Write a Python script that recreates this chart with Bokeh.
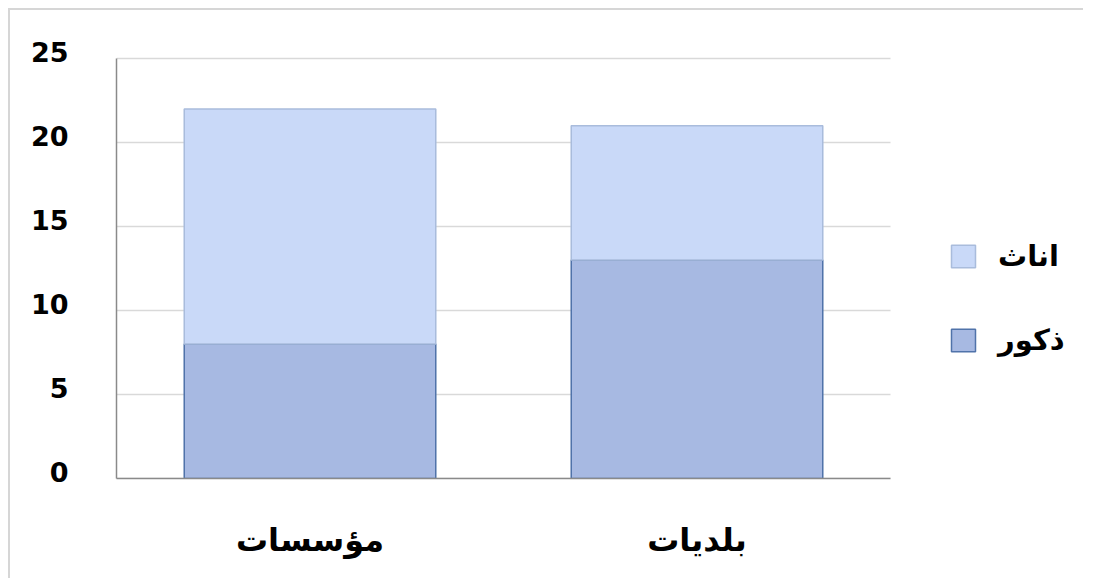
from bokeh.plotting import figure
from bokeh.models import Range1d, Legend, LegendItem, FixedTicker, InlineStyleSheet, LinearAxis
from bokeh.embed import file_html
from bokeh.resources import INLINE

# ---- data ----
categories = ["مؤسسات", "بلديات"]
males = [8, 13]      # ذكور
females = [14, 8]    # اناث
y_ticks = [0, 5, 10, 15, 20, 25]
series_labels = {"males": "ذكور", "females": "اناث"}

# ---- layout constants ----
W, H = 1075, 570
BL = 106
PX_PER_UNIT = 420 / 25            # vertical pixels per value unit
LABEL_LIFT_PX = 7                 # tick labels sit a little above their gridlines
lift = LABEL_LIFT_PX / PX_PER_UNIT
y_top = max(y_ticks) + lift
frame_h = round(y_top * PX_PER_UNIT)
BB = 102
BT = H - BB - frame_h
CAT_PX = 387                      # pixel width of one category slot
frame_w = W - BL
x_end = frame_w / CAT_PX
n = len(categories)
xs = [i + 0.5 for i in range(n)]

data = dict(x=xs, cat=categories, males=males, females=females)

p = figure(
    x_range=Range1d(0, x_end),
    y_range=Range1d(0, y_top),
    width=W, height=H,
    output_backend="svg", toolbar_location=None,
    min_border_left=BL, min_border_right=0,
    min_border_top=BT, min_border_bottom=BB,
)
p.stylesheets = [InlineStyleSheet(css=":host { margin-top: 8px; margin-left: 8px; padding-right: 8px; border-top: 2px solid #d6d6d6; border-left: 2px solid #d6d6d6; }")]

# horizontal gridlines, limited to the category area
p.segment(x0=[0] * len(y_ticks), x1=[n] * len(y_ticks), y0=y_ticks, y1=y_ticks,
          line_color="#d9d9d9", line_width=1.5)

rs = p.vbar_stack(
    ["males", "females"], x="x", width=0.65, source=data,
    fill_color=["#a7b9e2", "#c9d9f8"],
    line_color=["#5073aa", "#a9bcdc"], line_width=1.5,
)
r_m, r_f = rs

# primary y axis: the axis line only
ya = p.yaxis[0]
ya.ticker = FixedTicker(ticks=y_ticks)
ya.bounds = (0, max(y_ticks))
ya.axis_line_color = "#8a8a8a"
ya.axis_line_width = 1.5
ya.major_tick_line_color = None
ya.minor_tick_line_color = None
ya.major_label_standoff = 0
ya.major_label_text_font_size = "0px"
ya.major_label_text_alpha = 0

# label axis: tick labels slightly above gridlines
lab_ticks = [t + lift for t in y_ticks]
yl = LinearAxis(
    ticker=FixedTicker(ticks=lab_ticks),
    major_label_overrides={lt: str(t) for lt, t in zip(lab_ticks, y_ticks)},
    axis_line_color=None, major_tick_line_color=None, minor_tick_line_color=None,
    major_label_standoff=36,
    major_label_text_font="DejaVu Sans", major_label_text_font_style="bold",
    major_label_text_font_size="27px", major_label_text_color="#000000",
)
p.add_layout(yl, "left")

p.xaxis.ticker = FixedTicker(ticks=xs)
p.xaxis.major_label_overrides = {x: c for x, c in zip(xs, categories)}
p.xaxis.bounds = (0, n)
p.xaxis.axis_line_color = "#8a8a8a"
p.xaxis.axis_line_width = 1.5
p.xaxis.major_tick_line_color = None
p.xaxis.minor_tick_line_color = None
p.xaxis.major_label_standoff = 36
p.xaxis.major_label_text_font = "DejaVu Sans"
p.xaxis.major_label_text_font_style = "bold"
p.xaxis.major_label_text_font_size = "32px"
p.xaxis.major_label_text_color = "#000000"

p.xgrid.grid_line_color = None
p.ygrid.grid_line_color = None

p.outline_line_color = None
p.background_fill_color = "white"
p.border_fill_color = "white"

legend = Legend(
    items=[LegendItem(label=series_labels["females"], renderers=[r_f]),
           LegendItem(label=series_labels["males"], renderers=[r_m])],
    location=(832, 121),
    padding=0, margin=0, spacing=49,
    glyph_height=28, glyph_width=30, label_height=35, label_standoff=20,
    border_line_color=None, background_fill_alpha=0,
    label_text_font="DejaVu Sans", label_text_font_style="bold",
    label_text_font_size="29px", label_text_color="#000000",
)
p.add_layout(legend)

open("out.html", "w").write(file_html(p, INLINE))
